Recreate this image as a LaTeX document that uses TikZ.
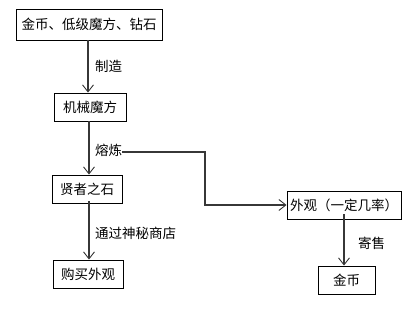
\documentclass[tikz,border=0pt]{standalone}
\usepackage{fontspec}
\setmainfont{Noto Sans CJK SC}
\usetikzlibrary{arrows.meta}
\definecolor{linec}{RGB}{55,55,55}
\begin{document}
\begin{tikzpicture}[x=1pt,y=-1pt,
  box/.style={draw=black,line width=0.9pt,inner sep=0pt,font=\fontsize{13.5}{15}\selectfont},
  lab/.style={inner sep=0pt,anchor=west,font=\fontsize{13.5}{15}\selectfont},
  conn/.style={draw=linec,line width=1.1pt,-{Straight Barb[length=7pt,width=11pt,line width=0.9pt]}}]
\useasboundingbox (0,0) rectangle (412,308);
\fill[white] (0,0) rectangle (412,308);
\node[box,minimum width=146pt,minimum height=31pt] (b1) at (89,24.5) {金币、低级魔方、钻石};
\node[box,minimum width=72pt,minimum height=28pt] (b2) at (90,107) {机械魔方};
\node[box,minimum width=70pt,minimum height=28pt] (b3) at (87,189) {贤者之石};
\node[box,minimum width=70pt,minimum height=28pt] (b4) at (88,274) {购买外观};
\node[box,minimum width=114pt,minimum height=28pt] (b5) at (344,205) {外观（一定几率）};
\node[box,minimum width=57pt,minimum height=28pt] (b6) at (346.5,280) {金币};
\node[lab] (l1) at (95,66) {制造};
\node[lab] (l2) at (95,150) {熔炼};
\node[lab] (l3) at (95,233) {通过神秘商店};
\node[lab] (l4) at (358,243) {寄售};
\coordinate (k) at (205,152);
\draw[conn] ([xshift=-1pt]b1.south) -- ([xshift=-1pt]b1.south |- b2.north);
\draw[conn] ([xshift=-1pt]b2.south) -- ([xshift=-1pt]b2.south |- b3.north);
\draw[conn] ([xshift=2pt,yshift=2pt]b3.south) -- ([xshift=2pt]b3.south |- b4.north);
\draw[conn] ([yshift=5pt]b5.south) -- (b5.south |- b6.north);
\draw[conn] (l2.east |- k) -- (k) |- (b5.west);
\end{tikzpicture}
\end{document}
